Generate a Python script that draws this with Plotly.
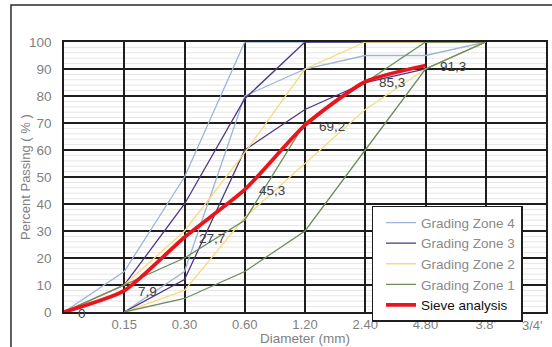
import plotly.graph_objects as go

# ---- data ----
sieve_sizes = ["0", "0.15", "0.30", "0.60", "1.20", "2.40", "4.80", "3.8'"]
extra_label = "3/4'"

zone4_lower = [None, 0, 15, 80, 90, 95, 95, 100]
zone4_upper = [0, 15, 50, 100, 100, 100, 100, 100]
zone3_lower = [None, 0, 12, 60, 75, 85, 90, 100]
zone3_upper = [0, 10, 40, 79, 100, 100, 100, 100]
zone2_lower = [None, 0, 8, 35, 55, 75, 90, 100]
zone2_upper = [0, 10, 30, 59, 90, 100, 100, 100]
zone1_lower = [None, 0, 5, 15, 30, 60, 90, 100]
zone1_upper = [0, 10, 20, 34, 70, 85, 100, 100]
sieve_analysis = [0, 7.9, 27.7, 45.3, 69.2, 85.3, 91.3]

positions = list(range(len(sieve_sizes)))

zones = [
    ("Grading Zone 4", zone4_lower, zone4_upper, "#9fb2d8"),
    ("Grading Zone 3", zone3_lower, zone3_upper, "#4e3580"),
    ("Grading Zone 2", zone2_lower, zone2_upper, "#f5db7e"),
    ("Grading Zone 1", zone1_lower, zone1_upper, "#6f8c5c"),
]

FONT = "Liberation Sans, Arial"
GRAY = "#7f7f7f"

fig = go.Figure()
for name, lo, up, col in zones:
    fig.add_trace(go.Scatter(x=positions, y=up, mode="lines", name=name,
                             legendgroup=name, showlegend=True,
                             line=dict(color=col, width=1.3), hoverinfo="skip"))
    fig.add_trace(go.Scatter(x=positions, y=lo, mode="lines", name=name,
                             legendgroup=name, showlegend=False,
                             line=dict(color=col, width=1.3), hoverinfo="skip"))

fig.add_trace(go.Scatter(x=positions[:len(sieve_analysis)], y=sieve_analysis, mode="lines",
                         name="<span style='color:#111111'>Sieve analysis</span>",
                         legendgroup="sieve",
                         line=dict(color="#e8161c", width=3.8, shape="spline", smoothing=0.6)))

# data labels
for xi, v in zip(positions, sieve_analysis):
    txt = (f"{v:g}").replace(".", ",")
    fig.add_annotation(x=xi, y=v, text=txt, showarrow=False, xanchor="left",
                       yanchor="middle", xshift=12, yshift=-1,
                       font=dict(family=FONT, size=13.5, color="#404040"))

# extra x label
fig.add_annotation(x=len(sieve_sizes) - 0.22, y=0, yref="y", text=extra_label, showarrow=False,
                   yanchor="top", yshift=-4,
                   font=dict(family=FONT, size=13, color=GRAY))

# axis titles
fig.add_annotation(xref="paper", yref="paper", x=-0.081, y=0.5, text="Percent Passing ( % )",
                   textangle=-90, showarrow=False, xanchor="center", yanchor="middle",
                   font=dict(family=FONT, size=13, color=GRAY))
fig.add_annotation(xref="paper", yref="paper", x=0.5, y=-0.098, text="Diameter (mm)",
                   showarrow=False, xanchor="center", yanchor="middle",
                   font=dict(family=FONT, size=13.5, color=GRAY))

# outer frame
fig.add_shape(type="rect", xref="paper", yref="paper", x0=-0.11, x1=1.05, y0=-0.14, y1=1.137,
              line=dict(color="#2a2a2a", width=1.5), fillcolor="rgba(0,0,0,0)", layer="below")

# faint minor gridlines (below the major grid)
for v in range(2, 100, 2):
    if v % 10:
        fig.add_shape(type="line", xref="paper", x0=0, x1=1, yref="y", y0=v, y1=v,
                      line=dict(color="#e6e6e6", width=1), layer="below")

grid_col = "#1e1e1e"
fig.update_layout(
    width=552, height=347,
    margin=dict(l=64, r=6, t=42, b=35, autoexpand=False),
    paper_bgcolor="white", plot_bgcolor="white",
    font=dict(family=FONT, color=GRAY, size=12),
    showlegend=True,
    legend=dict(x=0.638, y=0.393, xanchor="left", yanchor="top",
                bgcolor="white", bordercolor="#1e1e1e", borderwidth=1.5,
                font=dict(size=13.5, color="#8a8a8a"),
                traceorder="grouped", tracegroupgap=0, indentation=8,
                itemwidth=30, entrywidth=145),
    xaxis=dict(range=[0, len(sieve_sizes)], tickvals=list(range(len(sieve_sizes) + 1)),
               ticktext=[""] + sieve_sizes[1:] + [""], automargin=False,
               showgrid=True, gridcolor=grid_col, gridwidth=1.5,
               showline=True, linecolor=grid_col, linewidth=1.5, mirror=True,
               zeroline=False, ticks="",
               tickfont=dict(size=13, color=GRAY)),
    yaxis=dict(range=[0, 100], dtick=10, showgrid=True, gridcolor=grid_col, gridwidth=1.5,
               showline=True, linecolor=grid_col, linewidth=1.5, mirror=True, automargin=False,
               zeroline=False, ticks="outside", ticklen=8, tickcolor="rgba(0,0,0,0)",
               tickfont=dict(size=13.5, color=GRAY)),
)

fig.write_html("out.html", config={"displayModeBar": False},
               post_script="document.body.style.margin='0px';")
